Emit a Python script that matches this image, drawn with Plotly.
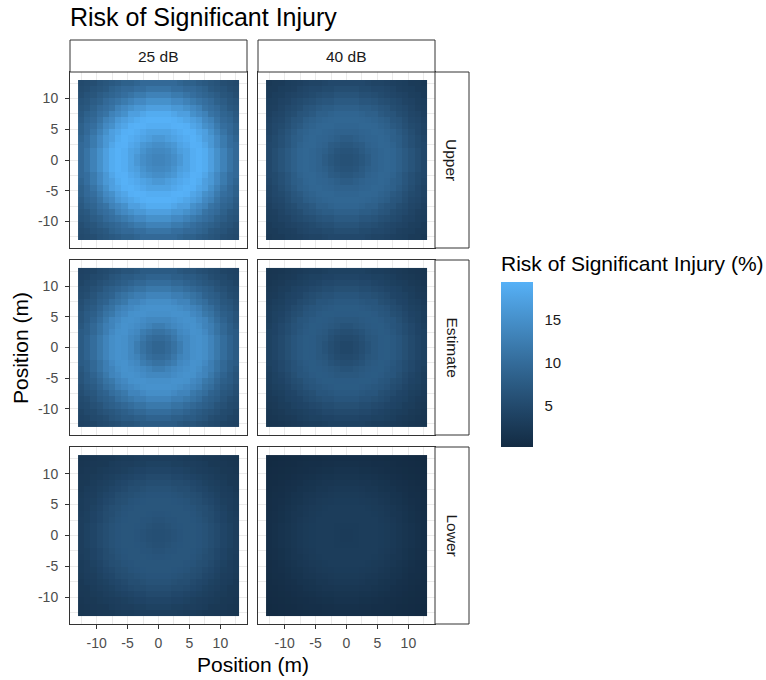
import numpy as np
import plotly.graph_objects as go

# Facet labels
columns = ["25 dB", "40 dB"]
rows = ["Upper", "Estimate", "Lower"]

# Cell centres along each position axis (m)
positions = np.arange(-12.5, 13.0, 1.0)
tick_vals = [-10, -5, 0, 5, 10]
tick_text = ["-10", "-5", "0", "5", "10"]

# Risk (%) by distance from the centre, every 0.5 m of radius (0..18 m)
radius_step = 0.5
risk_upper_25 = [13.3, 13.4, 13.6, 13.9, 14.3, 14.8, 15.4, 16.1, 16.9, 17.6, 18.3, 18.9, 19.3, 19.4, 19.2, 18.7,
                 18.0, 17.1, 16.1, 15.1, 14.1, 13.1, 12.1, 11.2, 10.4, 9.7, 9.0, 8.4, 7.8, 7.3, 6.8, 6.4, 6.0,
                 5.6, 5.3, 5.0, 4.8]
risk_upper_40 = [6.0, 6.1, 6.2, 6.4, 6.7, 7.0, 7.4, 7.8, 8.2, 8.6, 8.9, 9.1, 9.3, 9.3, 9.2, 9.0, 8.7, 8.3, 7.9,
                 7.4, 6.9, 6.5, 6.0, 5.6, 5.2, 4.8, 4.5, 4.2, 3.9, 3.6, 3.4, 3.2, 3.0, 2.8, 2.7, 2.5, 2.4]
risk_est_25 = [9.0, 9.1, 9.4, 9.8, 10.3, 10.9, 11.6, 12.4, 13.2, 13.9, 14.5, 15.0, 15.3, 15.3, 15.1, 14.7, 14.1,
               13.4, 12.6, 11.8, 11.0, 10.2, 9.5, 8.8, 8.2, 7.6, 7.0, 6.5, 6.0, 5.6, 5.2, 4.9, 4.6, 4.3, 4.1,
               3.9, 3.7]
risk_est_40 = [4.5, 4.6, 4.8, 5.0, 5.3, 5.6, 6.0, 6.4, 6.8, 7.1, 7.4, 7.6, 7.7, 7.7, 7.5, 7.3, 7.0, 6.7, 6.3,
               5.9, 5.5, 5.1, 4.8, 4.4, 4.1, 3.8, 3.5, 3.2, 3.0, 2.8, 2.6, 2.4, 2.3, 2.1, 2.0, 1.9, 1.8]
risk_low_25 = [5.8, 5.8, 5.9, 6.0, 6.2, 6.3, 6.5, 6.6, 6.7, 6.8, 6.8, 6.8, 6.7, 6.6, 6.4, 6.2, 5.9, 5.6, 5.3,
               5.0, 4.7, 4.4, 4.1, 3.8, 3.5, 3.3, 3.1, 2.9, 2.7, 2.5, 2.4, 2.3, 2.2, 2.1, 2.0, 1.9, 1.8]
risk_low_40 = [2.8, 2.8, 2.8, 2.9, 2.9, 3.0, 3.0, 3.0, 3.0, 3.0, 3.0, 2.9, 2.8, 2.7, 2.6, 2.5, 2.3, 2.1, 2.0,
               1.8, 1.6, 1.5, 1.3, 1.2, 1.0, 0.9, 0.8, 0.7, 0.6, 0.5, 0.45, 0.4, 0.35, 0.3, 0.25, 0.2, 0.15]

profiles = {
    ("Upper", "25 dB"): risk_upper_25,
    ("Upper", "40 dB"): risk_upper_40,
    ("Estimate", "25 dB"): risk_est_25,
    ("Estimate", "40 dB"): risk_est_40,
    ("Lower", "25 dB"): risk_low_25,
    ("Lower", "40 dB"): risk_low_40,
}

xx, yy = np.meshgrid(positions, positions)
ring_index = np.clip(np.rint(np.hypot(xx, yy) / radius_step).astype(int), 0, len(risk_upper_25) - 1)


def grid_for(profile):
    return np.asarray(profile)[ring_index]


# ggplot-style sequential gradient (#132B43 -> #56B1F7) interpolated in CIELAB
def _srgb_to_lab(hexc):
    rgb = np.array([int(hexc[i:i + 2], 16) for i in (1, 3, 5)]) / 255.0
    lin = np.where(rgb <= 0.04045, rgb / 12.92, ((rgb + 0.055) / 1.055) ** 2.4)
    m = np.array([[0.4124, 0.3576, 0.1805], [0.2126, 0.7152, 0.0722], [0.0193, 0.1192, 0.9505]])
    xyz = m @ lin / np.array([0.95047, 1.0, 1.08883])
    f = np.where(xyz > 0.008856, np.cbrt(xyz), 7.787 * xyz + 16 / 116)
    return np.array([116 * f[1] - 16, 500 * (f[0] - f[1]), 200 * (f[1] - f[2])])


def _lab_to_hex(lab):
    fy = (lab[0] + 16) / 116
    fx = fy + lab[1] / 500
    fz = fy - lab[2] / 200
    f = np.array([fx, fy, fz])
    xyz = np.where(f ** 3 > 0.008856, f ** 3, (f - 16 / 116) / 7.787) * np.array([0.95047, 1.0, 1.08883])
    minv = np.array([[3.2406, -1.5372, -0.4986], [-0.9689, 1.8758, 0.0415], [0.0557, -0.2040, 1.0570]])
    lin = np.clip(minv @ xyz, 0, 1)
    rgb = np.where(lin <= 0.0031308, 12.92 * lin, 1.055 * lin ** (1 / 2.4) - 0.055)
    r, g, b = (np.clip(rgb, 0, 1) * 255).round().astype(int)
    return f"#{r:02x}{g:02x}{b:02x}"


lab_lo, lab_hi = _srgb_to_lab("#132B43"), _srgb_to_lab("#56B1F7")
colorscale = [[t, _lab_to_hex(lab_lo + (lab_hi - lab_lo) * t)] for t in np.linspace(0, 1, 11)]

all_vals = np.concatenate([grid_for(p).ravel() for p in profiles.values()])
zmin, zmax = float(all_vals.min()), float(all_vals.max())

W, H = 766, 680
col_px = [(70, 247), (258, 435)]
row_px = [(72, 248), (260, 435), (447, 624)]

fig = go.Figure()

font_fam = "Liberation Sans, Arial, sans-serif"
tick_font = dict(family=font_fam, size=14, color="#4D4D4D")
grid_col = "#EBEBEB"
minor_vals = [-12.5, -7.5, -2.5, 2.5, 7.5, 12.5]
ax_range = [-14.3, 14.3]

n = 0
for ri, rname in enumerate(rows):
    for ci, cname in enumerate(columns):
        n += 1
        sfx = "" if n == 1 else str(n)
        z = grid_for(profiles[(rname, cname)])
        fig.add_trace(go.Heatmap(
            x=positions, y=positions, z=z,
            coloraxis="coloraxis",
            xaxis="x" + sfx, yaxis="y" + sfx,
            hovertemplate="x=%{x}<br>y=%{y}<br>risk=%{z:.1f}%<extra></extra>",
        ))
        x0, x1 = col_px[ci]
        y0, y1 = row_px[ri]
        xdom = [x0 / W, x1 / W]
        ydom = [1 - y1 / H, 1 - y0 / H]
        show_x = ri == len(rows) - 1
        show_y = ci == 0
        common = dict(
            range=ax_range, showgrid=True, gridcolor=grid_col, gridwidth=1.1,
            tickvals=tick_vals, ticktext=tick_text, zeroline=False,
            minor=dict(tickvals=minor_vals, showgrid=True, gridcolor=grid_col, gridwidth=0.5, ticks=""),
            showline=True, mirror=True, linecolor="#333333", linewidth=1,
            tickfont=tick_font, ticklen=4, tickcolor="#333333", tickwidth=1,
        )
        fig.layout["xaxis" + sfx] = dict(
            common, domain=xdom, anchor="y" + sfx, showticklabels=show_x,
            ticks="outside" if show_x else "", ticklabelstandoff=2,
        )
        fig.layout["yaxis" + sfx] = dict(
            common, domain=ydom, anchor="x" + sfx, showticklabels=show_y,
            ticks="outside" if show_y else "", ticklabelstandoff=4,
        )

shapes = []
annotations = []
strip_font = dict(family=font_fam, size=15.5, color="#1A1A1A")

# column strips
for ci, cname in enumerate(columns):
    x0, x1 = col_px[ci]
    shapes.append(dict(type="rect", xref="paper", yref="paper",
                       x0=x0 / W, x1=x1 / W, y0=1 - 72 / H, y1=1 - 40 / H,
                       fillcolor="white", line=dict(color="#333333", width=1)))
    annotations.append(dict(text=cname, xref="paper", yref="paper",
                            x=(x0 + x1) / 2 / W, y=1 - 56 / H, showarrow=False,
                            font=strip_font, xanchor="center", yanchor="middle"))

# row strips
for ri, rname in enumerate(rows):
    y0, y1 = row_px[ri]
    shapes.append(dict(type="rect", xref="paper", yref="paper",
                       x0=435 / W, x1=469 / W, y0=1 - y1 / H, y1=1 - y0 / H,
                       fillcolor="white", line=dict(color="#333333", width=1)))
    annotations.append(dict(text=rname, xref="paper", yref="paper",
                            x=452 / W, y=1 - (y0 + y1) / 2 / H, showarrow=False,
                            textangle=90, font=strip_font,
                            xanchor="center", yanchor="middle"))

# titles
annotations.append(dict(text="Risk of Significant Injury", xref="paper", yref="paper",
                        x=68 / W, y=1 - 17 / H, showarrow=False, xanchor="left", yanchor="middle",
                        font=dict(family=font_fam, size=25, color="black")))
annotations.append(dict(text="Position (m)", xref="paper", yref="paper",
                        x=253 / W, y=1 - 664 / H, showarrow=False, xanchor="center", yanchor="middle",
                        font=dict(family=font_fam, size=21, color="black")))
annotations.append(dict(text="Position (m)", xref="paper", yref="paper",
                        x=20 / W, y=1 - 348 / H, showarrow=False, textangle=-90,
                        xanchor="center", yanchor="middle",
                        font=dict(family=font_fam, size=21, color="black")))
annotations.append(dict(text="Risk of Significant Injury (%)", xref="paper", yref="paper",
                        x=499 / W, y=1 - 263 / H, showarrow=False, xanchor="left", yanchor="middle",
                        font=dict(family=font_fam, size=21, color="black")))

fig.update_layout(
    width=W, height=H,
    margin=dict(l=0, r=0, t=0, b=0),
    paper_bgcolor="white", plot_bgcolor="white",
    shapes=shapes, annotations=annotations,
    coloraxis=dict(
        colorscale=colorscale, cmin=zmin, cmax=zmax,
        colorbar=dict(
            x=501 / W, xanchor="left", xref="paper",
            y=1 - 447 / H, yanchor="bottom", yref="paper",
            len=(447 - 282) / H, lenmode="fraction",
            thickness=32, thicknessmode="pixels",
            outlinewidth=0,
            tickvals=[5, 10, 15],
            ticks="outside", ticklen=9, tickcolor="rgba(0,0,0,0)", tickwidth=1,
            tickfont=dict(family=font_fam, size=15, color="#1A1A1A"),
            xpad=0, ypad=0,
        ),
    ),
    showlegend=False,
)

fig.write_html("out.html")
